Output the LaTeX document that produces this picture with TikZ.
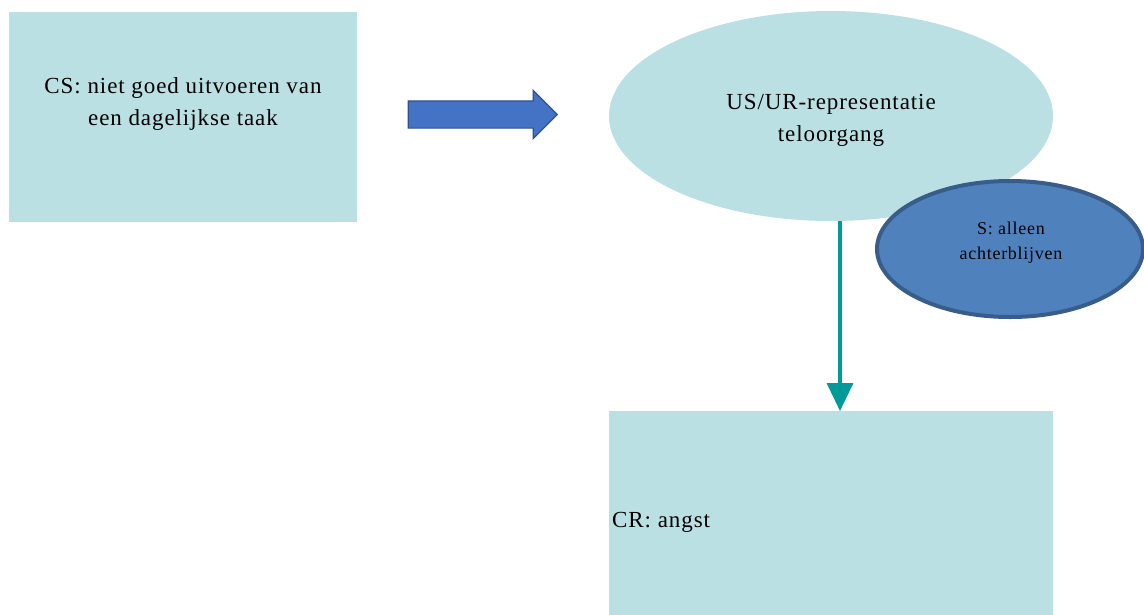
\documentclass[tikz,border=0pt]{standalone}
\usepackage{fontspec}
\setmainfont{Liberation Serif}[LetterSpace=4]
\usetikzlibrary{shapes.geometric,shapes.arrows,arrows.meta}
\definecolor{paleteal}{HTML}{BAE0E3}
\definecolor{arrowblue}{HTML}{4472C4}
\definecolor{arrowedge}{HTML}{2F528F}
\definecolor{sfill}{HTML}{4F81BD}
\definecolor{sedge}{HTML}{385D8A}
\definecolor{tealline}{HTML}{009B98}
\tikzset{
  box/.style={fill=paleteal, draw=none, inner sep=0pt},
  bigtext/.style={font=\fontsize{23}{32}\selectfont, align=center, inner sep=0pt},
}
\begin{document}
\begin{tikzpicture}[x=1pt,y=-1pt]
\useasboundingbox (0,0) rectangle (1144,614);
% left stimulus box
\node[box, minimum width=348pt, minimum height=210pt] (cs) at (183,117) {};
\node[bigtext] (cstext) at (183,104) {CS: niet goed uitvoeren van\\een dagelijkse taak};
% block arrow
\node[single arrow, fill=arrowblue, draw=arrowedge, line width=1.2pt,
      minimum height=149pt, minimum width=47pt, single arrow head extend=10.5pt,
      inner xsep=0pt, inner ysep=13pt] (blk) at (476,114.5) {};
% big ellipse
\node[ellipse, fill=paleteal, minimum width=444pt, minimum height=210pt, inner sep=0pt] (us) at (831,116) {};
\node[bigtext] (ustext) at (831,120) {US/UR-representatie\\teloorgang};
% response box
\node[box, minimum width=444pt, minimum height=210pt, anchor=north west] (cr) at (609,411) {};
\node[font=\fontsize{23}{32}\selectfont, anchor=west, inner sep=0pt] (crtext) at (612,522) {CR: angst};
% teal arrow
\draw[tealline, line width=3.5pt, -{Triangle[width=26pt,length=28pt]}] (840,221) -- (cr.north -| 840,0);
% small ellipse
\node[ellipse, fill=sfill, draw=sedge, line width=4pt, minimum width=266pt, minimum height=136pt, inner sep=0pt] (s) at (1010,249) {};
\node[font=\fontsize{18}{25}\selectfont, align=center] (stext) at (1011,243) {S: alleen\\achterblijven};
\end{tikzpicture}
\end{document}
